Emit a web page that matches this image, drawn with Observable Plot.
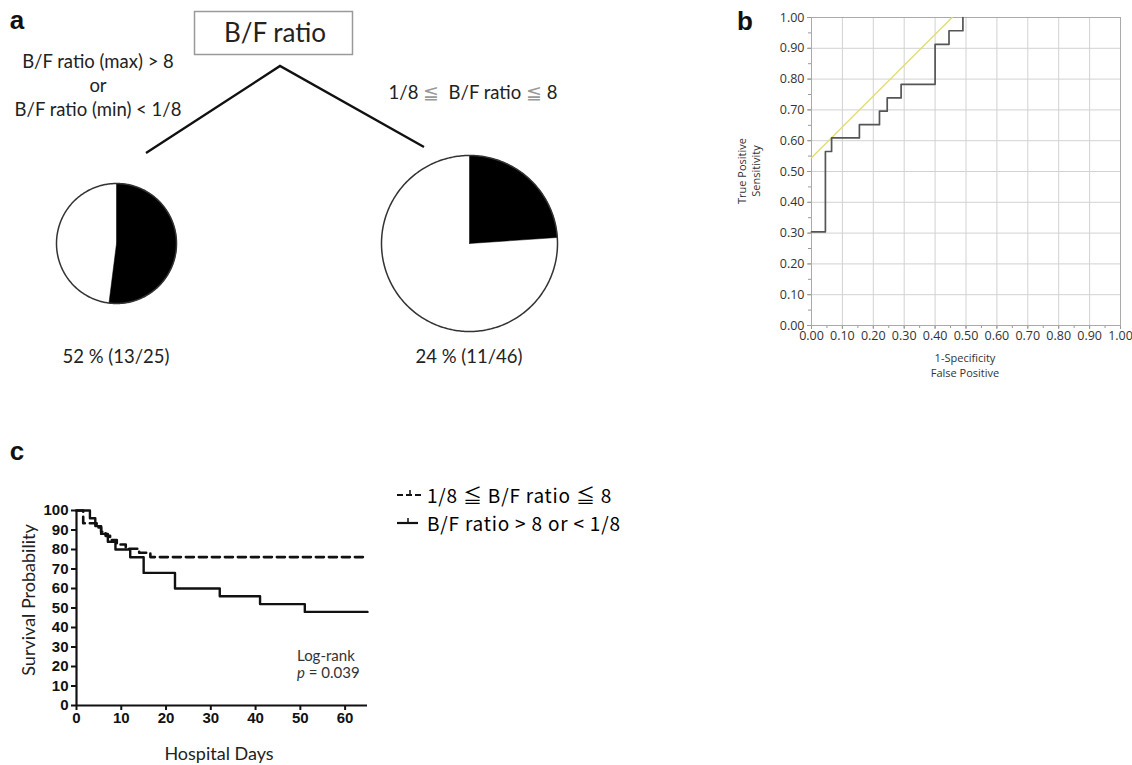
<!DOCTYPE html>
<html><head><meta charset="utf-8">
<script src="https://cdn.jsdelivr.net/npm/d3@7"></script>
<script src="https://cdn.jsdelivr.net/npm/@observablehq/plot@0.6"></script>
<style>
body{margin:0;background:#fff;}
#root{position:relative;width:1132px;height:765px;overflow:hidden;background:#fff;font-family:Lato,sans-serif;color:#222;}
.abs{position:absolute;white-space:nowrap;line-height:1.15;}
.c{transform:translate(-50%,-50%);}
.l{transform:translate(0,-50%);}
.panel{font-family:"Liberation Sans",Arial,sans-serif;font-weight:bold;font-size:26px;color:#111;}
svg{overflow:visible;}
</style></head><body><div id="root"></div>
<script>
// ---------- DATA ----------
// panel a: in-hospital mortality by B/F ratio group
const pieGroups = ["B/F ratio (max) > 8 or B/F ratio (min) < 1/8", "1/8 ≦ B/F ratio ≦ 8"];
const pieDeaths = [13, 11];
const pieTotals = [25, 46];
const pieLabels = ["52 % (13/25)", "24 % (11/46)"];

// panel b: ROC curve (1-specificity, sensitivity)
const rocFPR = [0, 0.045, 0.065, 0.155, 0.22, 0.245, 0.29, 0.40, 0.445, 0.49];
const rocTPR = [0.304, 0.565, 0.609, 0.652, 0.696, 0.739, 0.783, 0.913, 0.957, 1.0];
const tangentFPR = [0, 0.455];
const tangentTPR = [0.545, 1.0];
const rocTicks = [0, 0.1, 0.2, 0.3, 0.4, 0.5, 0.6, 0.7, 0.8, 0.9, 1.0];

// panel c: Kaplan-Meier survival
const kmDaysNormal = [0, 1.5, 4.5, 5.5, 6.5, 7.5, 9, 11, 14, 16.5, 65];
const kmSurvNormal = [100, 93.5, 91.3, 89.1, 87.0, 84.8, 82.6, 80.4, 78.3, 76.1, 76.1];
const kmDaysExtreme = [0, 3, 4.2, 5.5, 7, 8.7, 12, 15, 22, 32, 41, 51, 65];
const kmSurvExtreme = [100, 96, 92, 88, 84, 80, 76, 68, 60, 56, 52, 48, 48];
const kmXTicks = [0, 10, 20, 30, 40, 50, 60];
const kmYTicks = [0, 10, 20, 30, 40, 50, 60, 70, 80, 90, 100];
const kmLegend = ["1/8 ≦ B/F ratio ≦ 8", "B/F ratio > 8 or < 1/8"];

// ---------- helpers ----------
const root = document.getElementById("root");
function put(el, left, top) {
  el.style.position = "absolute"; el.style.left = left + "px"; el.style.top = top + "px";
  root.appendChild(el); return el;
}
function txt(html, x, y, cls, style) {
  const d = document.createElement("div");
  d.className = "abs " + (cls || "c");
  d.style.left = x + "px"; d.style.top = y + "px";
  Object.assign(d.style, style || {});
  d.innerHTML = html; root.appendChild(d); return d;
}

// ---------- panel a ----------
txt("a", 17, 21, "c panel");
const deco = document.createElementNS("http://www.w3.org/2000/svg", "svg");
deco.setAttribute("width", 560); deco.setAttribute("height", 180);
deco.innerHTML = `<rect x="194.5" y="11.5" width="158" height="43" fill="#fff" stroke="#9a9a9a" stroke-width="1.5"/>
<path d="M146,153 L280,66 L424,147" fill="none" stroke="#111" stroke-width="2.4"/>`;
put(deco, 0, 0);
txt("B/F ratio", 275, 33, "c", {fontSize: "26px", color: "#222"});
txt("B/F ratio (max) &gt; 8", 98, 62, "c", {fontSize: "18.5px"});
txt("or", 98, 86, "c", {fontSize: "18.5px"});
txt("B/F ratio (min) &lt; 1/8", 98, 110, "c", {fontSize: "18.5px"});
txt('1/8 <span style="color:#999">≦</span>&nbsp; B/F ratio <span style="color:#999">≦</span> 8', 473, 93, "c", {fontSize: "18.5px"});

const pieCenters = [[116, 243, 60], [469, 243, 88]];
pieDeaths.forEach((dd, i) => {
  const frac = dd / pieTotals[i];
  const n = Math.ceil(frac * 240);
  const wedge = [{x: 0, y: 0}];
  for (let k = 0; k <= n; k++) {
    const t = frac * 2 * Math.PI * k / n;
    wedge.push({x: Math.sin(t), y: Math.cos(t)});
  }
  wedge.push({x: 0, y: 0});
  const circle = d3.range(0, 361).map(a => ({x: Math.sin(a * Math.PI / 180), y: Math.cos(a * Math.PI / 180)}));
  const [cx, cy, r] = pieCenters[i];
  const chart = Plot.plot({
    width: 2 * r + 4, height: 2 * r + 4, margin: 2,
    x: {domain: [-1, 1]}, y: {domain: [-1, 1]}, axis: null,
    style: {background: "transparent"},
    marks: [
      Plot.line(wedge, {x: "x", y: "y", fill: "#000", stroke: "#000", strokeWidth: 0.5, curve: "linear"}),
      Plot.line(circle, {x: "x", y: "y", stroke: "#333", strokeWidth: 1.5})
    ]
  });
  put(chart, cx - r - 2, cy - r - 2);
  txt(pieLabels[i], cx, 357, "c", {fontSize: "18.5px", color: "#222"});
});

// ---------- panel b ----------
txt("b", 745, 22, "c panel");
const rocPts = rocFPR.map((x, i) => ({fpr: x, tpr: rocTPR[i]}));
const tanPts = tangentFPR.map((x, i) => ({fpr: x, tpr: tangentTPR[i]}));
const minorTicks = d3.range(0, 21).map(i => i / 20);
const roc = Plot.plot({
  width: 412, height: 390, marginLeft: 91, marginTop: 17, marginRight: 12, marginBottom: 65,
  x: {domain: [0, 1]}, y: {domain: [0, 1]},
  style: {fontFamily: "'Open Sans', sans-serif", fontSize: "12.5px", color: "#333", background: "transparent"},
  marks: [
    Plot.gridX(rocTicks.slice(1, -1), {stroke: "#d2d2d2", strokeOpacity: 1}),
    Plot.gridY(rocTicks.slice(1, -1), {stroke: "#d2d2d2", strokeOpacity: 1}),
    Plot.axisX(minorTicks, {tickSize: 3, tickFormat: () => "", stroke: "#999", label: null}),
    Plot.axisY(minorTicks, {tickSize: 3, tickFormat: () => "", stroke: "#999", label: null}),
    Plot.axisX(rocTicks, {tickSize: 4, tickPadding: 2, tickFormat: d3.format(".2f"), stroke: "#999", label: null, fontSize: 12.5}),
    Plot.axisY(rocTicks, {tickSize: 4, tickPadding: 3, tickFormat: d3.format(".2f"), stroke: "#999", label: null, fontSize: 12.5}),
    Plot.frame({stroke: "#aaa"}),
    Plot.line(tanPts, {x: "fpr", y: "tpr", stroke: "#e3dd74", strokeWidth: 1.4}),
    Plot.line(rocPts, {x: "fpr", y: "tpr", curve: "step-after", stroke: "#555", strokeWidth: 1.7})
  ]
});
put(roc, 720, 0);
txt("True Positive<br>Sensitivity", 749, 171, "c",
  {fontFamily: "'Open Sans',sans-serif", fontSize: "11px", textAlign: "center", lineHeight: "14px", color: "#333",
   transform: "translate(-50%,-50%) rotate(-90deg)"});
txt("1-Specificity<br>False Positive", 965, 365, "c",
  {fontFamily: "'Open Sans',sans-serif", fontSize: "11px", textAlign: "center", lineHeight: "15px", color: "#333"});

// ---------- panel c ----------
txt("c", 17, 452, "c panel");
const normal = kmDaysNormal.map((d, i) => ({day: d, surv: kmSurvNormal[i]}));
const extreme = kmDaysExtreme.map((d, i) => ({day: d, surv: kmSurvExtreme[i]}));
const km = Plot.plot({
  width: 377, height: 270, marginLeft: 76, marginTop: 15, marginRight: 10, marginBottom: 60,
  x: {domain: [0, 65]}, y: {domain: [0, 100]},
  style: {fontFamily: "'Liberation Sans',Arial,sans-serif", fontSize: "15px", fontWeight: "bold", color: "#111", background: "transparent"},
  marks: [
    Plot.axisY(kmYTicks, {tickSize: 5, tickPadding: 3, strokeWidth: 2, label: null, fontSize: 15, fontWeight: "bold"}),
    Plot.axisX(kmXTicks, {tickSize: 5, tickPadding: 2, strokeWidth: 2, label: null, fontSize: 15, fontWeight: "bold"}),
    Plot.ruleX([0], {y1: 0, y2: 100, strokeWidth: 2.2, stroke: "#111"}),
    Plot.ruleY([0], {x1: 0, x2: 65, strokeWidth: 2.2, stroke: "#111"}),
    Plot.line(extreme, {x: "day", y: "surv", curve: "step-after", stroke: "#111", strokeWidth: 2.4}),
    Plot.line(normal, {x: "day", y: "surv", curve: "step-after", stroke: "#111", strokeWidth: 2.6, strokeDasharray: "8,5"})
  ]
});
put(km, 0, 495);
txt("Survival Probability", 28, 600, "c", {fontSize: "18px", color: "#222", transform: "translate(-50%,-50%) rotate(-90deg)"});
txt("Hospital Days", 219, 753, "c", {fontSize: "18px", color: "#222"});
txt("Log-rank", 297, 656, "l", {fontFamily: "Lato,sans-serif", fontSize: "15px", color: "#333"});
txt("<i>p</i> = 0.039", 297, 673, "l", {fontFamily: "Lato,sans-serif", fontSize: "15px", color: "#333"});

// legend
const lg = document.createElementNS("http://www.w3.org/2000/svg", "svg");
lg.setAttribute("width", 30); lg.setAttribute("height", 42);
lg.innerHTML = `<line x1="1" y1="11" x2="26" y2="11" stroke="#111" stroke-width="2.2" stroke-dasharray="6,3"/>
<line x1="14" y1="11" x2="14" y2="6" stroke="#111" stroke-width="1.5"/>
<line x1="1" y1="39" x2="22" y2="39" stroke="#111" stroke-width="2.2"/>
<line x1="12" y1="39" x2="12" y2="34" stroke="#111" stroke-width="1.5"/>`;
put(lg, 396, 484);
kmLegend.forEach((t, i) => {
  txt(t, 427, 495 + i * 28, "l", {fontFamily: "'Noto Sans CJK JP',sans-serif", fontSize: "19px", lineHeight: "20px", letterSpacing: "0.8px", color: "#000"});
});
</script></body></html>
